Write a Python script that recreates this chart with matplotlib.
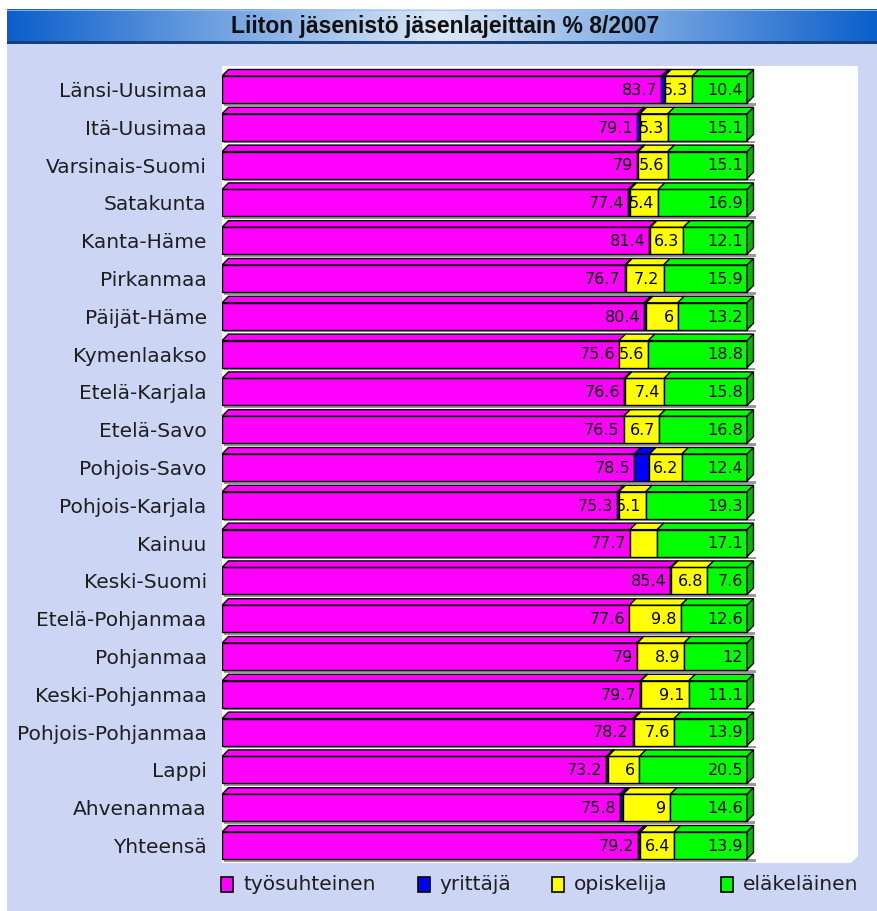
import matplotlib
matplotlib.use('Agg')
import matplotlib.pyplot as plt
import matplotlib.patches as patches
import numpy as np

# data
alueet = ['Länsi-Uusimaa', 'Itä-Uusimaa', 'Varsinais-Suomi', 'Satakunta', 'Kanta-Häme',
          'Pirkanmaa', 'Päijät-Häme', 'Kymenlaakso', 'Etelä-Karjala', 'Etelä-Savo',
          'Pohjois-Savo', 'Pohjois-Karjala', 'Kainuu', 'Keski-Suomi', 'Etelä-Pohjanmaa',
          'Pohjanmaa', 'Keski-Pohjanmaa', 'Pohjois-Pohjanmaa', 'Lappi', 'Ahvenanmaa',
          'Yhteensä']
tyosuhteinen = [83.7, 79.1, 79, 77.4, 81.4, 76.7, 80.4, 75.6, 76.6, 76.5,
                78.5, 75.3, 77.7, 85.4, 77.6, 79, 79.7, 78.2, 73.2, 75.8, 79.2]
yrittaja = [0.6, 0.5, 0.3, 0.3, 0.2, 0.2, 0.4, 0, 0.2, 0,
            2.9, 0.3, 0, 0.2, 0, 0.1, 0.1, 0.3, 0.3, 0.6, 0.5]
opiskelija = [5.3, 5.3, 5.6, 5.4, 6.3, 7.2, 6, 5.6, 7.4, 6.7,
              6.2, 5.1, 5.2, 6.8, 9.8, 8.9, 9.1, 7.6, 6, 9, 6.4]
elakelainen = [10.4, 15.1, 15.1, 16.9, 12.1, 15.9, 13.2, 18.8, 15.8, 16.8,
               12.4, 19.3, 17.1, 7.6, 12.6, 12, 11.1, 13.9, 20.5, 14.6, 13.9]
sarjat = ['työsuhteinen', 'yrittäjä', 'opiskelija', 'eläkeläinen']
varit = ['#FF00FF', '#0000FF', '#FFFF00', '#00FF00']
ilman_arvoa = [1]            # yrittäjä values are not printed
piilotetut = {(12, 2)}       # Kainuu / opiskelija has no label in the original

W, H = 877, 911
fig = plt.figure(figsize=(W / 100, H / 100), dpi=100)
fig.patch.set_facecolor('white')


def fx(px):
    return px / W


def fy(py):
    return 1 - py / H


# lavender panel
fig.add_artist(patches.Rectangle((fx(7), 0), 1 - fx(7), fy(9), transform=fig.transFigure,
                                 facecolor='#CCD5F4', edgecolor='none', zorder=0))

# title bar with blue gradient
tax = fig.add_axes([fx(7), fy(44), 1 - fx(7), 35 / H])
t = np.linspace(0, 1, 400)
k = 1 - np.abs(t - 0.5) * 2
c0 = np.array([0x0B, 0x5F, 0xCB]) / 255
c1 = np.array([0xDC, 0xE8, 0xF8]) / 255
grad = (c0[None, :] + (c1 - c0)[None, :] * k[:, None])[None, :, :]
tax.imshow(grad, aspect='auto', extent=[0, 1, 0, 1])
tax.add_patch(patches.Rectangle((0, 0), 1, 3.5 / 35, facecolor='#173F78', edgecolor='none'))
tax.add_patch(patches.Rectangle((0, 1 - 2 / 35), 1, 1.5 / 35, facecolor='#9CC2F0',
                                edgecolor='none', alpha=0.8))
tax.set_xlim(0, 1)
tax.set_ylim(0, 1)
tax.axis('off')
fig.text(fx(445), fy(27), 'Liiton jäsenistö jäsenlajeittain % 8/2007', ha='center',
         va='center', fontsize=16.5, fontweight='bold', family='Liberation Sans',
         color='#101010')

# plot area
left, right, top, bottom = 222, 858, 66, 863
px_x = 5.25        # pixels per percent
px_y = 37.8        # pixels per row
row0 = 89.5
ax = fig.add_axes([fx(left), fy(bottom), (right - left) / W, (bottom - top) / H])
ax.set_xlim(0, (right - left) / px_x)
ax.set_ylim((bottom - row0) / px_y, (top - row0) / px_y)
ax.patch.set_visible(False)
for s in ax.spines.values():
    s.set_visible(False)
bev = 7
ax.add_patch(patches.Polygon(
    [(0, 0), (1 - bev / (right - left), 0), (1, bev / (bottom - top)), (1, 1), (0, 1)],
    closed=True, transform=ax.transAxes, facecolor='white', edgecolor='none', zorder=0))

ax.set_xticks([])
ax.set_yticks(range(len(alueet)), alueet)
ax.tick_params(axis='y', length=0, pad=11, labelsize=14.5, labelcolor='#1e1e1e')
for lab in ax.get_yticklabels():
    lab.set_family('DejaVu Sans')

puoli = 13.5 / px_y
dx = 6.5 / px_x
dy = 6.5 / px_y
arvot = np.array([tyosuhteinen, yrittaja, opiskelija, elakelainen])

for i in range(len(alueet)):
    yt, yb = i - puoli, i + puoli
    total = arvot[:, i].sum()
    # shadow under the bar
    ax.add_patch(patches.Rectangle((2 / px_x, yb), total + dx, 2.5 / px_y,
                                   facecolor='#9a9a9a', edgecolor='none', zorder=1))
    x0 = 0
    for j in range(len(sarjat)):
        v = arvot[j, i]
        x1 = x0 + v
        if v > 0:
            ax.add_patch(patches.Rectangle((x0, yt), v, yb - yt, facecolor=varit[j],
                                           edgecolor='black', lw=1, zorder=2))
            ax.add_patch(patches.Polygon([(x0, yt), (x0 + dx, yt - dy), (x1 + dx, yt - dy), (x1, yt)],
                                         closed=True, facecolor=varit[j], edgecolor='black',
                                         lw=1, zorder=2))
        if j not in ilman_arvoa and (i, j) not in piilotetut:
            ax.text(x1 - 4 / px_x, i + 0.02, f'{v:g}', ha='right', va='center', fontsize=11.5,
                    family='DejaVu Sans', color='black', zorder=4)
        x0 = x1
    # right side face
    ax.add_patch(patches.Polygon([(x0, yt), (x0 + dx, yt - dy), (x0 + dx, yb - dy), (x0, yb)],
                                 closed=True, facecolor='#00B800', edgecolor='black', lw=1,
                                 zorder=3))

# legend
ruudut = [221, 418, 552, 721]
tekstit = [243, 439, 574, 743]
ly = 884.5
for nimi, vari, rx, tx in zip(sarjat, varit, ruudut, tekstit):
    fig.add_artist(patches.Rectangle((fx(rx), fy(ly + 7.5)), 12 / W, 15 / H,
                                     transform=fig.transFigure, facecolor=vari,
                                     edgecolor='black', lw=1.2))
    fig.text(fx(tx), fy(ly), nimi, ha='left', va='center', fontsize=14.5,
             family='DejaVu Sans', color='#1e1e1e')

fig.savefig('out.png', dpi=100)
